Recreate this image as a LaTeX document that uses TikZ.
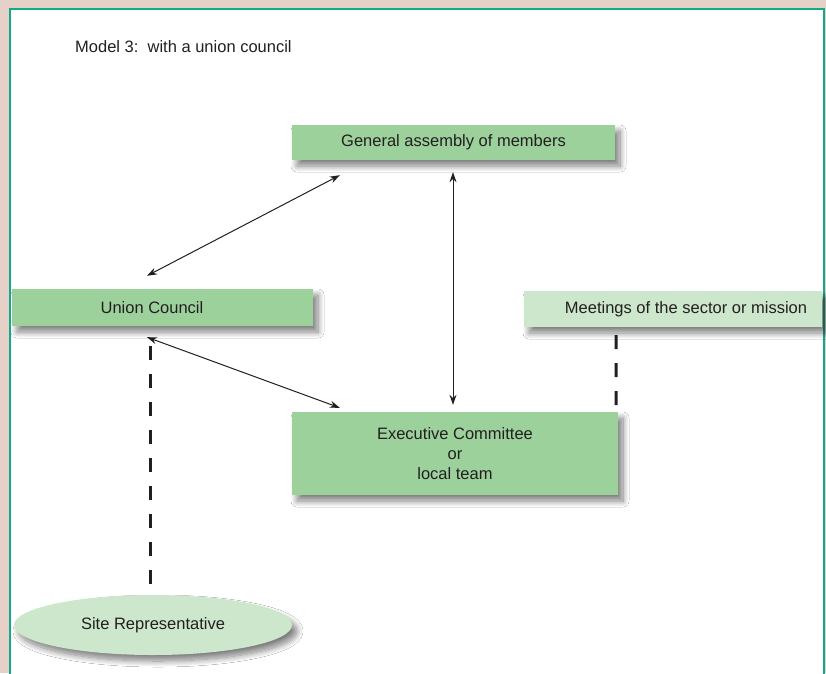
\documentclass[tikz,border=0pt]{standalone}
\usepackage{fontspec}
\setmainfont{Liberation Sans}
\usetikzlibrary{arrows.meta,shapes.geometric,shadows.blur}
\definecolor{boxgreen}{HTML}{9CD19C}
\definecolor{palegreen}{HTML}{CCE7CB}
\definecolor{framepink}{HTML}{E5D1C7}
\definecolor{frameteal}{HTML}{13A98B}
\definecolor{inkgray}{HTML}{231F20}
\tikzset{
  box/.style={rectangle, fill=boxgreen, inner sep=0pt, text=inkgray,
    font=\fontsize{16.5}{20}\selectfont, align=center,
    blur shadow={shadow xshift=5pt, shadow yshift=-6pt, shadow blur radius=6pt,
      shadow blur steps=12, shadow opacity=50}},
  lightbox/.style={box, fill=palegreen},
  link/.style={{Stealth[length=10pt,width=7pt]}-{Stealth[length=10pt,width=7pt]}, line width=1pt, inkgray},
  dashline/.style={line width=3pt, inkgray, dash pattern=on 14pt off 14pt}
}
\begin{document}
\begin{tikzpicture}[x=1pt,y=-1pt]
\useasboundingbox (0,0) rectangle (826,673);
% frame
\fill[framepink] (0,0) rectangle (826,673);
\draw[frameteal, line width=2.5pt, fill=white] (10,9) rectangle (824,690);

% title
\node[anchor=base west, text=inkgray, font=\fontsize{16.5}{20}\selectfont, inner sep=0pt]
  (title) at (75,52) {Model 3:\ \ with a union council};

% boxes
\node[box, minimum width=323pt, minimum height=35pt] (assembly) at (453.5,142.5) {General assembly of members};
\node[box, minimum width=301pt, minimum height=37pt] (council) at (162.5,307.5) {Union Council\hspace*{21pt}};
\node[lightbox, minimum width=298pt, minimum height=36pt] (meetings) at (673,309) {\hspace*{26pt}Meetings of the sector or mission};
\node[box, minimum width=326pt, minimum height=83pt] (exec) at (455,453.5) {Executive Committee\\or\\local team};
\node[lightbox, ellipse, minimum width=278pt, minimum height=60pt] (site) at (153,625) {Site Representative};

% arrows
\draw[link] ([xshift=-15.5pt,yshift=13pt]council.north) -- ([xshift=48pt,yshift=-15pt]assembly.south west);
\draw[link] ([xshift=-15.5pt,yshift=-11pt]council.south) -- ([xshift=48pt,yshift=4pt]exec.north west);
\draw[link] ([xshift=-0.5pt,yshift=-12pt]assembly.south) -- ([xshift=-2pt,yshift=7pt]exec.north);

% dashed links
\draw[dashline] ([xshift=-12.5pt,yshift=-20pt]council.south) -- ([xshift=-3pt,yshift=7pt]site.north);
\draw[dashline] ([xshift=-57pt,yshift=-8pt]meetings.south) -- ([xshift=-2pt]exec.north east);
\end{tikzpicture}
\end{document}
